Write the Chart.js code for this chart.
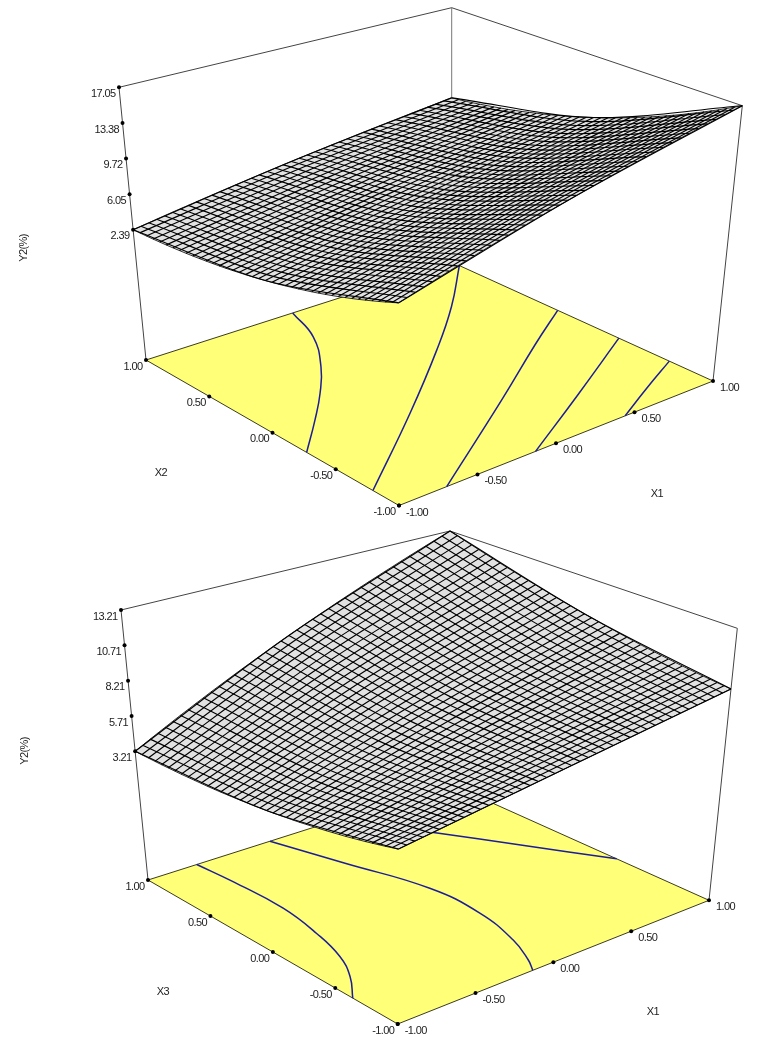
<!DOCTYPE html>
<html>
<head>
<meta charset="utf-8">
<title>Y2 response surfaces</title>
<style>
  html, body { margin: 0; padding: 0; background: #fff; }
  canvas { display: block; }
</style>
</head>
<body>
<canvas id="topChart" width="774" height="525"></canvas>
<canvas id="bottomChart" width="774" height="525"></canvas>
<script src="https://cdn.jsdelivr.net/npm/chart.js@4/dist/chart.umd.min.js"></script>
<script>
// Mesh positions on both factor axes (40 cells is an estimate of the reference mesh)
const meshLevels = [-1, -0.95, -0.9, -0.85, -0.8, -0.75, -0.7, -0.65, -0.6, -0.55, -0.5, -0.45, -0.4, -0.35, -0.3, -0.25, -0.2, -0.15, -0.1, -0.05, 0,
  0.05, 0.1, 0.15, 0.2, 0.25, 0.3, 0.35, 0.4, 0.45, 0.5, 0.55, 0.6, 0.65, 0.7, 0.75, 0.8, 0.85, 0.9, 0.95, 1];
const lineNodes = [-1, 0, 1];
const factorTicks = [-1, -0.5, 0, 0.5, 1];
const tickLabels = ["-1.00", "-0.50", "0.00", "0.50", "1.00"];

const topZTicks = [2.39, 6.05, 9.72, 13.38, 17.05];
const bottomZTicks = [3.21, 5.71, 8.21, 10.71, 13.21];

// the levels in between were worked out by hand from curves through those readings.
// Rows: one per X2/X3 level, Y2 at X1 = -1, 0, 1
const topRows = [
  [8.10, 12.80, 17.05], [7.83, 12.45, 16.65], [7.57, 12.11, 16.27], [7.32, 11.78, 15.89], [7.07, 11.45, 15.52], [6.83, 11.14, 15.16], [6.59, 10.83, 14.80],
  [6.36, 10.52, 14.46], [6.14, 10.23, 14.11], [5.92, 9.94, 13.78], [5.71, 9.66, 13.46], [5.51, 9.39, 13.14], [5.31, 9.13, 12.83], [5.12, 8.87, 12.52],
  [4.94, 8.63, 12.23], [4.76, 8.39, 11.94], [4.59, 8.15, 11.65], [4.42, 7.93, 11.38], [4.26, 7.71, 11.11], [4.11, 7.50, 10.85], [3.97, 7.30, 10.60],
  [3.83, 7.11, 10.36], [3.69, 6.92, 10.12], [3.57, 6.74, 9.89], [3.45, 6.57, 9.66], [3.33, 6.41, 9.45], [3.22, 6.26, 9.24], [3.12, 6.11, 9.04],
  [3.03, 5.97, 8.85], [2.94, 5.84, 8.66], [2.86, 5.71, 8.48], [2.78, 5.60, 8.31], [2.71, 5.49, 8.14], [2.65, 5.39, 7.99], [2.59, 5.30, 7.84],
  [2.54, 5.21, 7.70], [2.50, 5.13, 7.56], [2.46, 5.06, 7.43], [2.43, 5.00, 7.31], [2.41, 4.95, 7.20], [2.39, 4.90, 7.10],
];
// Columns: one per X1 level, Y2 at X2/X3 = -1, 0, 1
const topCols = [
  [8.10, 3.97, 2.39], [8.35, 4.13, 2.52], [8.59, 4.30, 2.65], [8.83, 4.47, 2.79], [9.08, 4.64, 2.92], [9.32, 4.80, 3.05], [9.56, 4.97, 3.18],
  [9.80, 5.14, 3.30], [10.03, 5.30, 3.43], [10.27, 5.47, 3.56], [10.51, 5.64, 3.68], [10.74, 5.80, 3.81], [10.97, 5.97, 3.93], [11.21, 6.14, 4.06],
  [11.44, 6.30, 4.18], [11.67, 6.47, 4.30], [11.90, 6.64, 4.42], [12.12, 6.80, 4.54], [12.35, 6.97, 4.66], [12.58, 7.13, 4.78], [12.80, 7.30, 4.90],
  [13.02, 7.47, 5.02], [13.25, 7.63, 5.13], [13.47, 7.80, 5.25], [13.69, 7.96, 5.36], [13.91, 8.13, 5.48], [14.12, 8.30, 5.59], [14.34, 8.46, 5.70],
  [14.55, 8.62, 5.82], [14.77, 8.79, 5.93], [14.98, 8.95, 6.04], [15.19, 9.12, 6.15], [15.40, 9.28, 6.26], [15.61, 9.45, 6.37], [15.82, 9.61, 6.47],
  [16.03, 9.78, 6.58], [16.24, 9.94, 6.69], [16.44, 10.11, 6.79], [16.65, 10.27, 6.89], [16.85, 10.44, 7.00], [17.05, 10.60, 7.10],
];
const bottomRows = [
  [5.47, 7.11, 8.95], [5.35, 7.08, 8.99], [5.23, 7.05, 9.04], [5.12, 7.03, 9.09], [5.01, 7.01, 9.14], [4.90, 6.99, 9.20], [4.80, 6.98, 9.26],
  [4.70, 6.97, 9.32], [4.60, 6.96, 9.39], [4.51, 6.96, 9.46], [4.42, 6.96, 9.53], [4.33, 6.96, 9.60], [4.25, 6.96, 9.68], [4.17, 6.97, 9.76],
  [4.09, 6.97, 9.85], [4.01, 6.99, 9.94], [3.94, 7.00, 10.03], [3.88, 7.02, 10.13], [3.81, 7.04, 10.22], [3.75, 7.07, 10.33], [3.69, 7.13, 10.43],
  [3.64, 7.17, 10.54], [3.58, 7.21, 10.65], [3.54, 7.25, 10.77], [3.49, 7.29, 10.88], [3.45, 7.34, 11.00], [3.41, 7.39, 11.13], [3.37, 7.45, 11.26],
  [3.34, 7.51, 11.39], [3.31, 7.57, 11.52], [3.29, 7.63, 11.66], [3.27, 7.70, 11.80], [3.25, 7.77, 11.94], [3.23, 7.85, 12.09], [3.22, 7.92, 12.24],
  [3.21, 8.00, 12.39], [3.20, 8.09, 12.55], [3.20, 8.18, 12.71], [3.20, 8.27, 12.87], [3.20, 8.36, 13.04], [3.21, 8.46, 13.21],
];
const bottomCols = [
  [5.47, 3.69, 3.21], [5.55, 3.87, 3.48], [5.63, 4.04, 3.76], [5.70, 4.21, 4.03], [5.78, 4.39, 4.30], [5.86, 4.56, 4.57], [5.94, 4.74, 4.84],
  [6.02, 4.91, 5.10], [6.10, 5.08, 5.37], [6.18, 5.25, 5.63], [6.27, 5.43, 5.90], [6.35, 5.60, 6.16], [6.43, 5.77, 6.42], [6.51, 5.94, 6.68],
  [6.60, 6.11, 6.94], [6.68, 6.28, 7.19], [6.77, 6.45, 7.45], [6.85, 6.62, 7.70], [6.94, 6.79, 7.96], [7.02, 6.96, 8.21], [7.11, 7.13, 8.46],
  [7.20, 7.30, 8.71], [7.29, 7.47, 8.96], [7.37, 7.63, 9.20], [7.46, 7.80, 9.45], [7.55, 7.97, 9.69], [7.64, 8.13, 9.94], [7.73, 8.30, 10.18],
  [7.82, 8.47, 10.42], [7.91, 8.63, 10.66], [8.01, 8.80, 10.90], [8.10, 8.97, 11.13], [8.19, 9.13, 11.37], [8.28, 9.29, 11.60], [8.38, 9.46, 11.84],
  [8.47, 9.62, 12.07], [8.57, 9.79, 12.30], [8.66, 9.95, 12.53], [8.76, 10.11, 12.76], [8.85, 10.27, 12.98], [8.95, 10.43, 13.21],
];

// Contour lines on the floor, as [X1, X2/X3] pairs
const topContours = [
  [[-0.04, 1], [-0.142, 0.718], [-0.336, 0.425], [-0.535, 0.192], [-0.744, -0.022], [-1, -0.27]],
  [[-1, -0.794], [-0.326, -0.26], [0.238, 0.213], [0.632, 0.568], [1, 0.94]],
  [[-0.696, -1], [0.116, -0.44], [0.644, -0.06], [1, 0.188]],
  [[-0.13, -1], [0.424, -0.654], [1, -0.28]],
  [[0.44, -1], [0.72, -0.83], [1, -0.666]],
];
const bottomContours = [
  [[-0.677, 1], [-0.655, 0.738], [-0.646, 0.35], [-0.694, 0.025], [-0.766, -0.25], [-0.865, -0.452], [-1, -0.64]],
  [[-0.192, 1], [-0.06, 0.566], [0.08, 0.068], [0.084, -0.32], [0.011, -0.671], [-0.076, -0.896], [-0.132, -1]],
  [[0.42, 0.75], [0.526, 0.585], [0.77, 0.156], [1, -0.287]],
];

// Box corners on the page: front, right, left, back
const panels = [
  {
    canvas: "topChart", top: 0, rows: topRows, cols: topCols, contours: topContours, zTicks: topZTicks,
    floor: -11.02, ceil: 17.05,
    base: [[399, 505.5], [713, 381], [146, 360], [451.5, 262]],
    roof: [[398.6, 208], [742.3, 105.7], [119, 87.3], [451.7, 7.7]],
    yTitle: [24, 248], sideTitle: "X2", sideTitleAt: [161, 473], x1TitleAt: [657, 494],
  },
  {
    canvas: "bottomChart", top: 525, rows: bottomRows, cols: bottomCols, contours: bottomContours, zTicks: bottomZTicks,
    floor: -5.9, ceil: 13.21,
    base: [[397.7, 1024], [709, 900.3], [148, 880], [450, 784]],
    roof: [[399, 730], [737.3, 628.3], [121, 610], [450, 531]],
    yTitle: [25, 751], sideTitle: "X3", sideTitleAt: [163, 992], x1TitleAt: [653, 1012],
  },
];

function mix(corners, u, v) {
  const [f, r, l, b] = corners;
  return [0, 1].map((k) => f[k] * (1 - u) * (1 - v) + r[k] * u * (1 - v) + l[k] * (1 - u) * v + b[k] * u * v);
}

function project(panel, x1, x2, z) {
  const u = (x1 + 1) / 2;
  const v = (x2 + 1) / 2;
  const w = (z - panel.floor) / (panel.ceil - panel.floor);
  const lo = mix(panel.base, u, v);
  const hi = mix(panel.roof, u, v);
  return { x: lo[0] + (hi[0] - lo[0]) * w, y: lo[1] + (hi[1] - lo[1]) * w };
}

function lineSet(data, color, width, extra) {
  return Object.assign({ data, showLine: true, borderColor: color, borderWidth: width, pointRadius: 0, tension: 0, fill: false, clip: false }, extra);
}

function buildDatasets(p) {
  const sets = [];
  const floorAt = (x1, x2) => project(p, x1, x2, p.floor);
  const roofAt = (x1, x2) => project(p, x1, x2, p.ceil);

  // floor
  const floorLoop = [floorAt(-1, -1), floorAt(1, -1), floorAt(1, 1), floorAt(-1, 1), floorAt(-1, -1)];
  sets.push(lineSet(floorLoop, "#3a3a20", 1, { fill: "shape", backgroundColor: "#ffff78" }));

  // back frame
  sets.push(lineSet([floorAt(-1, 1), roofAt(-1, 1), roofAt(1, 1), roofAt(1, -1), floorAt(1, -1)], "#444444", 1));
  sets.push(lineSet([floorAt(1, 1), roofAt(1, 1)], "#777777", 1));

  p.contours.forEach((c) => {
    sets.push(lineSet(c.map((q) => floorAt(q[0], q[1])), "#1c1c9c", 1.5, { tension: 0.45 }));
  });

  // surface outline, walked round the four edges, then the mesh over it
  const back = meshLevels.length - 1;
  const outline = [];
  meshLevels.forEach((x, i) => outline.push(project(p, x, -1, p.cols[i][0])));
  meshLevels.forEach((x, i) => outline.push(project(p, 1, x, p.rows[i][2])));
  meshLevels.forEach((x, i) => outline.push(project(p, meshLevels[back - i], 1, p.cols[back - i][2])));
  meshLevels.forEach((x, i) => outline.push(project(p, -1, meshLevels[back - i], p.rows[back - i][0])));
  sets.push(lineSet(outline, "#000000", 0.8, { fill: "shape", backgroundColor: "#e2e2e2" }));

  meshLevels.forEach((level, i) => {
    const alongX1 = lineNodes.map((x, k) => project(p, x, level, p.rows[i][k]));
    const alongX2 = lineNodes.map((x, k) => project(p, level, x, p.cols[i][k]));
    sets.push(lineSet(alongX1, "#000000", 1.15, { tension: 0.33 }));
    sets.push(lineSet(alongX2, "#000000", 1.15, { tension: 0.33 }));
  });

  // tick dots
  const dots = [];
  factorTicks.forEach((t) => {
    dots.push(floorAt(t, -1));
    dots.push(floorAt(-1, t));
  });
  p.zTicks.forEach((z) => dots.push(project(p, -1, 1, z)));
  sets.push({ data: dots, showLine: false, pointRadius: 2, backgroundColor: "#000000", borderWidth: 0, clip: false });

  // first dataset is painted last in Chart.js, so number them back to front
  sets.forEach((s, i) => { s.order = sets.length - i; });
  return sets;
}

const labelPlugin = {
  id: "boxLabels",
  afterDraw(chart, args, opts) {
    const p = opts.panel;
    const { ctx, scales } = chart;
    const put = (text, at, dx, dy, align, rot) => {
      ctx.save();
      ctx.translate(scales.x.getPixelForValue(at.x) + dx, scales.y.getPixelForValue(at.y) + dy);
      if (rot) ctx.rotate(rot);
      ctx.textAlign = align;
      ctx.textBaseline = "middle";
      ctx.fillText(text, 0, 0);
      ctx.restore();
    };
    ctx.save();
    ctx.font = "11px 'Liberation Sans'";
    ctx.letterSpacing = "-0.6px";
    ctx.fillStyle = "#222222";
    factorTicks.forEach((t, i) => {
      put(tickLabels[i], project(p, t, -1, p.floor), 7, 7, "left");
      put(tickLabels[i], project(p, -1, t, p.floor), -3.5, 6.5, "right");
    });
    p.zTicks.forEach((z) => put(z.toFixed(2), project(p, -1, 1, z), -3.5, 6.7, "right"));
    put("Y2(%)", { x: p.yTitle[0], y: p.yTitle[1] }, 0, 0, "center", -Math.PI / 2);
    put(p.sideTitle, { x: p.sideTitleAt[0], y: p.sideTitleAt[1] }, 0, 0, "center");
    put("X1", { x: p.x1TitleAt[0], y: p.x1TitleAt[1] }, 0, 0, "center");
    ctx.restore();
  },
};

panels.forEach((p) => {
  new Chart(document.getElementById(p.canvas).getContext("2d"), {
    type: "scatter",
    data: { datasets: buildDatasets(p) },
    plugins: [labelPlugin],
    options: {
      responsive: false,
      animation: false,
      devicePixelRatio: 1,
      layout: { padding: 0, autoPadding: false },
      scales: {
        x: { type: "linear", display: false, min: 0, max: 774 },
        y: { type: "linear", display: false, min: p.top, max: p.top + 525, reverse: true },
      },
      plugins: {
        legend: { display: false },
        tooltip: { enabled: false },
        boxLabels: { panel: p },
      },
    },
  });
});
</script>
</body>
</html>
